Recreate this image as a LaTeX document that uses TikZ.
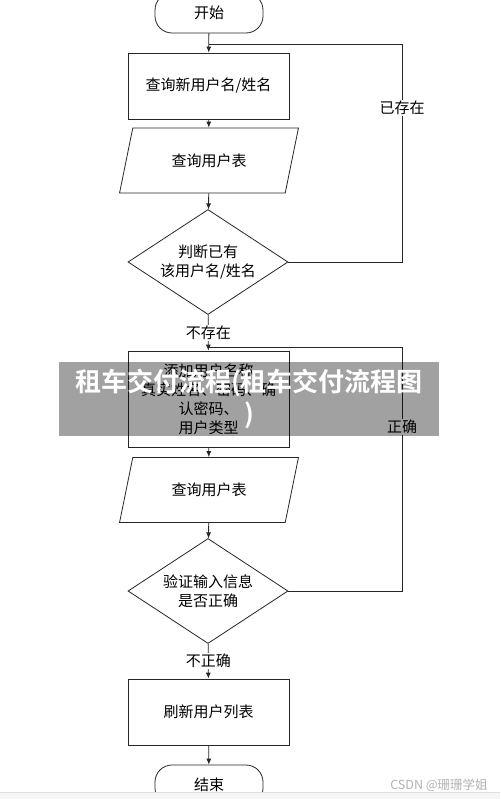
\documentclass[tikz,border=0pt]{standalone}
\usepackage{fontspec}
\setmainfont{Noto Sans CJK SC}[BoldFont={Noto Sans CJK SC Bold}]
\usetikzlibrary{arrows.meta,positioning,shapes.geometric}

\tikzset{
  base/.style={draw=black!85, line width=0.8pt, inner sep=0pt, align=center,
    font=\fontsize{15}{19}\selectfont},
  term/.style={base, rectangle, rounded corners=17pt, minimum width=108pt, minimum height=40pt},
  proc/.style={base, rectangle, minimum width=161pt},
  io/.style={base, trapezium, trapezium left angle=65, trapezium right angle=115,
    trapezium stretches, minimum width=180pt, minimum height=65pt},
  decide/.style={base, diamond, aspect=1.52, minimum width=160pt, minimum height=105pt},
  lbl/.style={fill=white, inner sep=1pt, font=\fontsize{15}{19}\selectfont},
  flow/.style={line width=0.8pt, draw=black!85, -{Latex[length=6pt,width=5pt]}},
  line/.style={line width=0.8pt, draw=black!85},
}

\begin{document}
\begin{tikzpicture}[x=1pt, y=-1pt]

\clip (0,0) rectangle (500,799);
\fill[white] (0,0) rectangle (500,799);

\node[term] (start) at (209,13) {开始};
\node[proc, minimum height=66pt] (query) at (208.5,86) {查询新用户名/姓名};
\node[io] (table1) at (209,160.5) {查询用户表};
\node[decide] (check) at (208,262) {判断已有\\该用户名/姓名};
\node[proc, minimum height=96pt] (add) at (208.5,399)
  {添加用户名称\\真实姓名、密码、确\\认密码、\\用户类型};
\node[io] (table2) at (209,490) {查询用户表};
\node[decide] (verify) at (208,591) {验证输入信息\\是否正确};
\node[proc, minimum height=66pt] (refresh) at (208.5,712) {刷新用户列表};
\node[term] (stop) at (209,785) {结束};

\coordinate (j1) at (209,44);
\coordinate (c1) at (402,44);
\coordinate (j2) at (209,347);
\coordinate (c2) at (402,347);

\draw[flow] (start) -- (query);
\draw[flow] (query) -- (table1);
\draw[flow] (table1) -- (check);
\draw[flow] (check) -- node[lbl] (absent) {不存在} (add);
\draw[flow] (add) -- (table2);
\draw[flow] (table2) -- (verify);
\draw[flow] (verify) -- node[lbl] (wrong) {不正确} (refresh);
\draw[flow] (refresh) -- (stop);

% loops back
\draw[line] (check.east) -| (c1) -- (j1);
\draw[line] (verify.east) -| (c2) -- (j2);
\node[lbl] (exists) at (402,108) {已存在};
\node[lbl] (right) at (402,427) {正确};

% overlay banner
\fill[black, opacity=0.37] (59,362) rectangle (439,436);
\node[text=white, align=center, font=\bfseries\fontsize{26}{32}\selectfont] (banner)
  at (249,399) {租车交付流程(租车交付流程图\\)};

% bottom bar and mark
\fill[gray!8] (0,792) rectangle (500,799);
\draw[gray!25, line width=0.6pt] (0,792) -- (500,792);
\node[text=black!30, font=\fontsize{12.5}{14}\selectfont] (mark) at (439,785) {CSDN @珊珊学姐};

\end{tikzpicture}
\end{document}
